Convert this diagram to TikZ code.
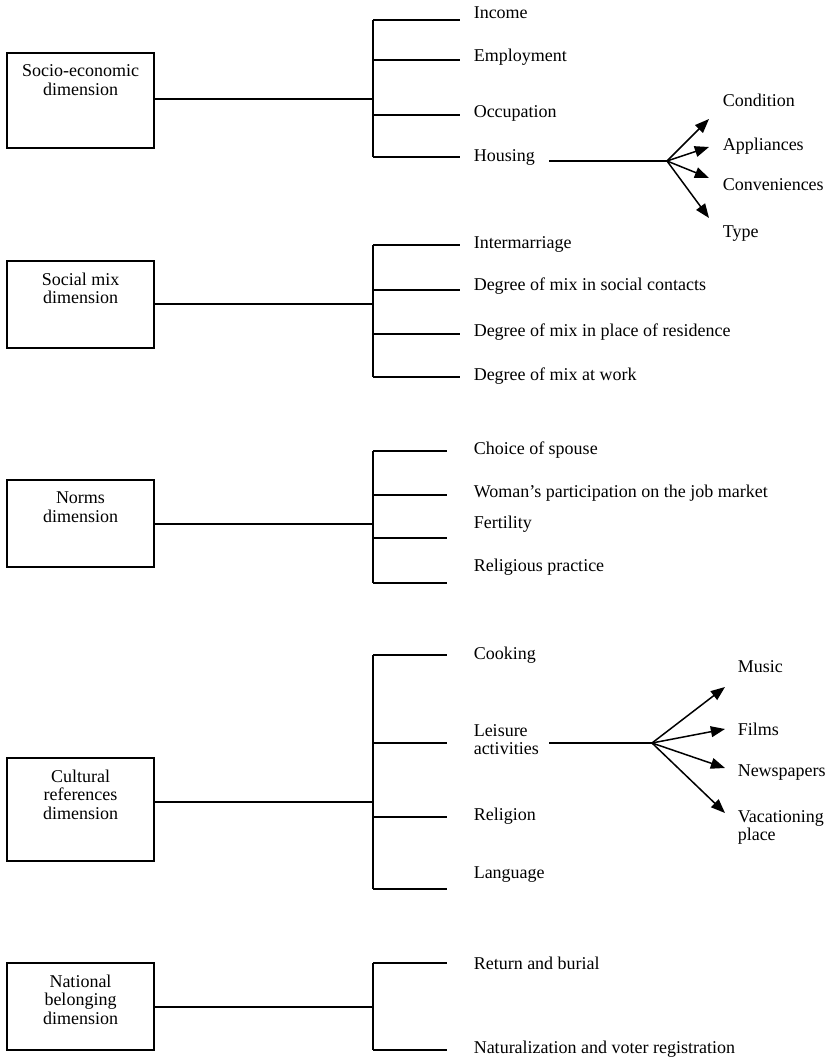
\documentclass[tikz,border=0pt]{standalone}
\usepackage{fontspec}
\setmainfont{Liberation Serif}
\usetikzlibrary{arrows.meta}

\begin{document}
\begin{tikzpicture}[x=0.6pt,y=-0.6pt,line width=0.9pt,
            font=\fontsize{10.8}{10.8}\selectfont,
            dimbox/.style={draw,rectangle,inner sep=0pt,minimum width=88.2pt},
            boxtext/.style={anchor=north,align=center,inner sep=0pt,font=\fontsize{10.8}{11.2}\selectfont},
            item/.style={anchor=west,inner sep=0pt,text height=0.7em,text depth=0.2em},
            item2/.style={anchor=west,inner sep=0pt,align=left},
            tip/.style={-{Triangle[length=8.5pt,width=6.5pt]}}]
            \useasboundingbox (0,0) rectangle (826,1059);

            \node[dimbox,minimum height=57pt] (se) at (80.5,100.5){};
            \node[boxtext] (se-t) at ([yshift=-7pt]se.north){Socio-economic\\dimension};
            \coordinate (se-j) at (373,99);
            \draw (se.east |- se-j) -- (se-j);
            \draw (373,20) -- (373,157);
            \foreach \y in {20,60,115,157} \draw (373,\y) -- (460,\y);
            \node[item] (income) at (473,14){Income};
            \node[item] (employ) at (473,57){Employment};
            \node[item] (occup) at (473,113){Occupation};
            \node[item] (housing) at (473,157){Housing};

            \coordinate (hs-s) at (549,161);
            \coordinate (hs-hub) at (667,161);
            \coordinate (cond-a) at (709,119);
            \coordinate (appl-a) at (709,147);
            \coordinate (conv-a) at (709,178);
            \coordinate (type-a) at (709,218);
            \draw (hs-s) -- (hs-hub);
            \foreach \t in {cond-a,appl-a,conv-a,type-a} \draw[tip] (hs-hub) -- (\t);
            \node[item] (cond) at (722,102){Condition};
            \node[item] (appl) at (722,146){Appliances};
            \node[item] (conv) at (722,186){Conveniences};
            \node[item] (type) at (722,233){Type};

            \node[dimbox,minimum height=52.2pt] (sm) at (80.5,304.5){};
            \node[boxtext] (sm-t) at ([yshift=-7pt]sm.north){Social mix\\dimension};
            \coordinate (sm-j) at (373,304);
            \draw (sm.east |- sm-j) -- (sm-j);
            \draw (373,245) -- (373,377);
            \foreach \y in {245,290,334,377} \draw (373,\y) -- (460,\y);
            \node[item] (marr) at (473,244){Intermarriage};
            \node[item] (contacts) at (473,286){Degree of mix in social contacts};
            \node[item] (resid) at (473,332){Degree of mix in place of residence};
            \node[item] (work) at (473,376){Degree of mix at work};

            \node[dimbox,minimum height=52.2pt] (nm) at (80.5,523.5){};
            \node[boxtext] (nm-t) at ([yshift=-7pt]nm.north){Norms\\dimension};
            \coordinate (nm-j) at (373,524);
            \draw (nm.east |- nm-j) -- (nm-j);
            \draw (373,451) -- (373,583);
            \foreach \y in {451,495,538,583} \draw (373,\y) -- (447,\y);
            \node[item] (spouse) at (473,450){Choice of spouse};
            \node[item] (woman) at (473,493){Woman's participation on the job market};
            \node[item] (fert) at (473,524){Fertility};
            \node[item] (relprac) at (473,567){Religious practice};

            \node[dimbox,minimum height=61.8pt] (cr) at (80.5,809.5){};
            \node[boxtext] (cr-t) at ([yshift=-7pt]cr.north){Cultural\\references\\dimension};
            \coordinate (cr-j) at (373,802);
            \draw (cr.east |- cr-j) -- (cr-j);
            \draw (373,655) -- (373,889);
            \foreach \y in {655,743,817,889} \draw (373,\y) -- (447,\y);
            \node[item] (cook) at (473,655){Cooking};
            \node[item2] (leisure) at (473,740){Leisure\\activities};
            \node[item] (relig) at (473,816){Religion};
            \node[item] (lang) at (473,874){Language};

            \coordinate (ls-s) at (549,743);
            \coordinate (ls-hub) at (652,743);
            \coordinate (music-a) at (725,687);
            \coordinate (films-a) at (725,729);
            \coordinate (news-a) at (725,768);
            \coordinate (vac-a) at (725,813);
            \draw (ls-s) -- (ls-hub);
            \foreach \t in {music-a,films-a,news-a,vac-a} \draw[tip] (ls-hub) -- (\t);
            \node[item] (music) at (737,668){Music};
            \node[item] (films) at (737,731){Films};
            \node[item] (news) at (737,772){Newspapers};
            \node[item2] (vac) at (737,827){Vacationing\\place};

            \node[dimbox,minimum height=52.2pt] (nb) at (80.5,1006.5){};
            \node[boxtext] (nb-t) at ([yshift=-7pt]nb.north){National\\belonging\\dimension};
            \coordinate (nb-j) at (373,1007);
            \draw (nb.east |- nb-j) -- (nb-j);
            \draw (373,963) -- (373,1050);
            \foreach \y in {963,1050} \draw (373,\y) -- (447,\y);
            \node[item] (burial) at (473,965){Return and burial};
            \node[item] (natur) at (473,1049){Naturalization and voter registration};
        \end{tikzpicture}
\end{document}
